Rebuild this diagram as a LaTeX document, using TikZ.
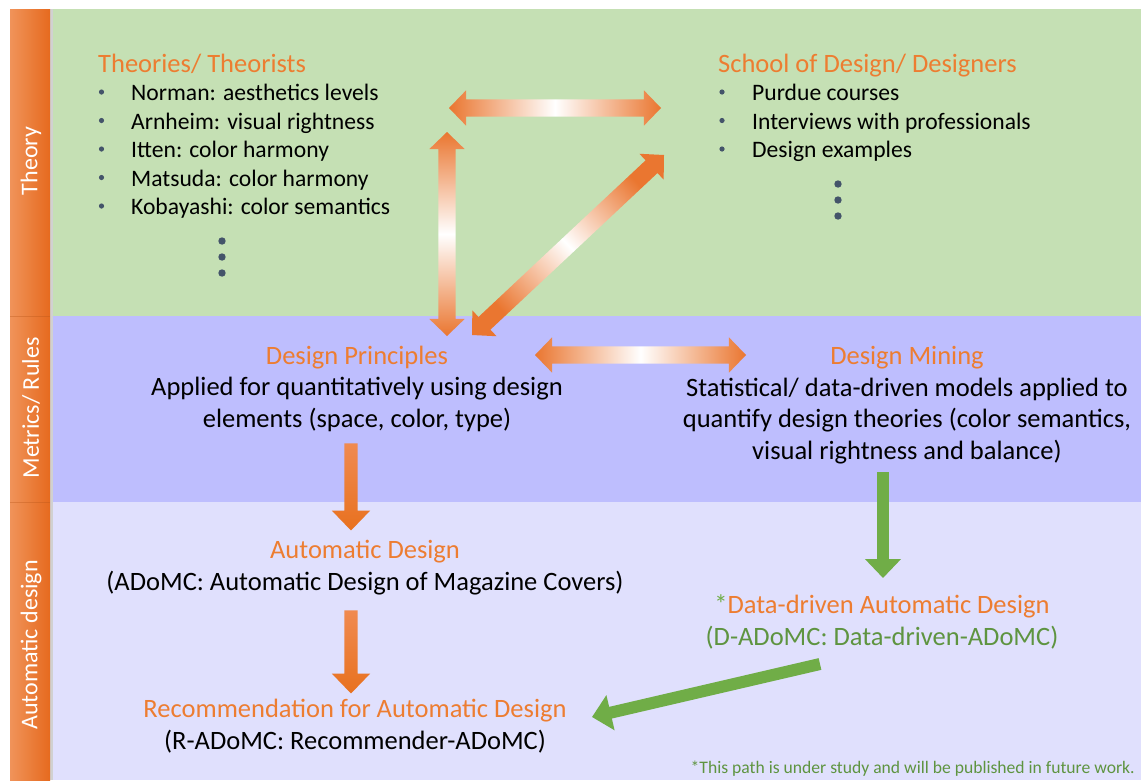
\documentclass[tikz,border=0pt]{standalone}
\usepackage{fontspec}
\setmainfont{Carlito}
\usetikzlibrary{calc,shapes.arrows,arrows.meta}

\definecolor{bggreen}{HTML}{C5E0B4}
\definecolor{bgviolet}{HTML}{BEBEFE}
\definecolor{bglav}{HTML}{E0E0FD}
\definecolor{accent}{HTML}{ED7D31}
\definecolor{barlight}{HTML}{F0935A}
\definecolor{bardark}{HTML}{E66A1E}
\definecolor{arrowend}{HTML}{EA7630}
\definecolor{arrowtop}{HTML}{F08A50}
\definecolor{arrowbot}{HTML}{E8711F}
\definecolor{leaf}{HTML}{70AD47}
\definecolor{leaftext}{HTML}{5E9440}
\definecolor{bulletc}{HTML}{44546A}

% a shaded two-headed block arrow laid between two named coordinates;
% the axis shading is turned to run along the arrow
\newcommand\twowayarrow[2]{%
  \path let \p1=($(#2)-(#1)$), \n1={veclen(\x1,\y1)}, \n2={atan2(\y1,\x1)} in
    node[twoway, minimum height=\n1, rotate=\n2, shading angle={90+\n2}] at ($(#1)!0.5!(#2)$) {};}
% a shaded one-headed block arrow
\newcommand\onewayarrow[2]{%
  \path let \p1=($(#2)-(#1)$), \n1={veclen(\x1,\y1)}, \n2={atan2(\y1,\x1)} in
    node[oneway, minimum height=\n1, rotate=\n2] at ($(#1)!0.5!(#2)$) {};}

\tikzset{
  twoway/.style={double arrow, inner xsep=0pt, inner ysep=8.5pt,
    double arrow head extend=9pt, double arrow tip angle=92,
    left color=arrowend, right color=arrowend, middle color=white},
  oneway/.style={single arrow, inner xsep=0pt, inner ysep=6.5pt,
    single arrow head extend=12.5pt, single arrow tip angle=88,
    top color=arrowtop, bottom color=arrowbot},
  greenarrow/.style={draw=leaf, line width=12pt,
    -{Triangle[width=35pt,length=19pt]}},
  listtext/.style={anchor=base west, font=\fontsize{23.6}{28}\selectfont, inner sep=0pt},
  headtext/.style={anchor=base, font=\fontsize{26.5}{31.5}\selectfont, inner sep=0pt, text=accent},
  bodytext/.style={anchor=base, font=\fontsize{26.5}{31.5}\selectfont, inner sep=0pt, align=center},
  sidelabel/.style={rotate=90, text=white, font=\fontsize{24}{28}\selectfont, inner sep=0pt},
  bullet/.style={fill=bulletc, draw=none},
}

\begin{document}
\begin{tikzpicture}[x=1pt,y=-1pt]
\useasboundingbox (0,0) rectangle (1141,780);

% bands
\fill[bggreen] (50,9) rectangle (1141,316);
\fill[bgviolet] (50,316) rectangle (1141,502);
\fill[bglav] (50,502) rectangle (1141,780);

% side bar with soft shadow
\fill[black!18] (50,9) rectangle (53,780);
\shade[left color=barlight, right color=bardark] (10,9) rectangle (50,780);
\draw[bardark!80!black, opacity=0.35, line width=0.8pt] (10,316) -- (50,316);
\draw[bardark!80!black, opacity=0.35, line width=0.8pt] (10,502) -- (50,502);
\node[sidelabel] (lblTheory) at (31,161) {Theory};
\node[sidelabel] (lblMetrics) at (31,408) {Metrics/ Rules};
\node[sidelabel] (lblAuto) at (31,645) {Automatic design};

% theories / theorists
\node[headtext, anchor=base west] (theories) at (98,72) {Theories/ Theorists};
\foreach \t [count=\i] in {Norman: aesthetics levels, Arnheim: visual rightness,
    Itten: color harmony, Matsuda: color harmony, Kobayashi: color semantics}{
  \node[listtext] (th\i) at (131,{72+28.5*\i}) {\t};
  \fill[bullet] (101.5,{63.5+28.5*\i}) circle (2.6);
}
\foreach \y in {241,257,273} \fill[bullet] (222,\y) circle (3.7);

% school of design / designers
\node[headtext, anchor=base west] (school) at (718,72) {School of Design/ Designers};
\foreach \t [count=\i] in {Purdue courses, Interviews with professionals, Design examples}{
  \node[listtext] (sd\i) at (752,{72+28.5*\i}) {\t};
  \fill[bullet] (722,{63.5+28.5*\i}) circle (2.6);
}
\foreach \y in {184,200,216} \fill[bullet] (838,\y) circle (3.7);

% design principles (multi-line nodes sit on their last baseline)
\node[headtext] (principles) at (357,364.5) {Design Principles};
\node[bodytext] (principlesTxt) at (357,427) {Applied for quantitatively using design\\elements (space, color, type)};

% design mining
\node[headtext] (mining) at (907,364.5) {Design Mining};
\node[bodytext] (miningTxt) at (907,459) {Statistical/ data-driven models applied to\\quantify design theories (color semantics,\\visual rightness and balance)};

% automatic design
\node[headtext] (auto) at (365,558.5) {Automatic Design};
\node[bodytext] (autoTxt) at (365,590.5) {(ADoMC: Automatic Design of Magazine Covers)};

% data-driven automatic design
\node[headtext] (dauto) at (882,613.5) {\textcolor{leaf}{*}Data-driven Automatic Design};
\node[bodytext, text=leaftext] (dautoTxt) at (882,645) {(D-ADoMC: Data-driven-ADoMC)};

% recommendation
\node[headtext] (recom) at (355,717.5) {Recommendation for Automatic Design};
\node[bodytext] (recomTxt) at (355,749.5) {(R-ADoMC: Recommender-ADoMC)};

% footnote
\node[anchor=base east, inner sep=0pt, text=leaftext, font=\fontsize{17.6}{20}\selectfont] (note)
  at (1135,773) {*This path is under study and will be published in future work.};

% arrow end points
\coordinate (tL) at (449,108);   \coordinate (tR) at (661,108);
\coordinate (vT) at (447,132);   \coordinate (vB) at (447,336);
\coordinate (dA) at (472,335);   \coordinate (dB) at (664,155);
\coordinate (mL) at (535,355);   \coordinate (mR) at (746,355);
\coordinate (o1a) at (351,440);  \coordinate (o1b) at (351,527);
\coordinate (o2a) at (351,607);  \coordinate (o2b) at (351,690);
\coordinate (g1a) at (883,472);  \coordinate (g1b) at (883,578);
\coordinate (g2a) at (820,664);  \coordinate (g2b) at (592,717);

% two-way links
\twowayarrow{tL}{tR}
\twowayarrow{vB}{vT}
\twowayarrow{dA}{dB}
\twowayarrow{mL}{mR}

% one-way links
\onewayarrow{o1a}{o1b}
\onewayarrow{o2a}{o2b}
\draw[greenarrow] (g1a) -- (g1b);
\draw[greenarrow] (g2a) -- (g2b);
\end{tikzpicture}
\end{document}
